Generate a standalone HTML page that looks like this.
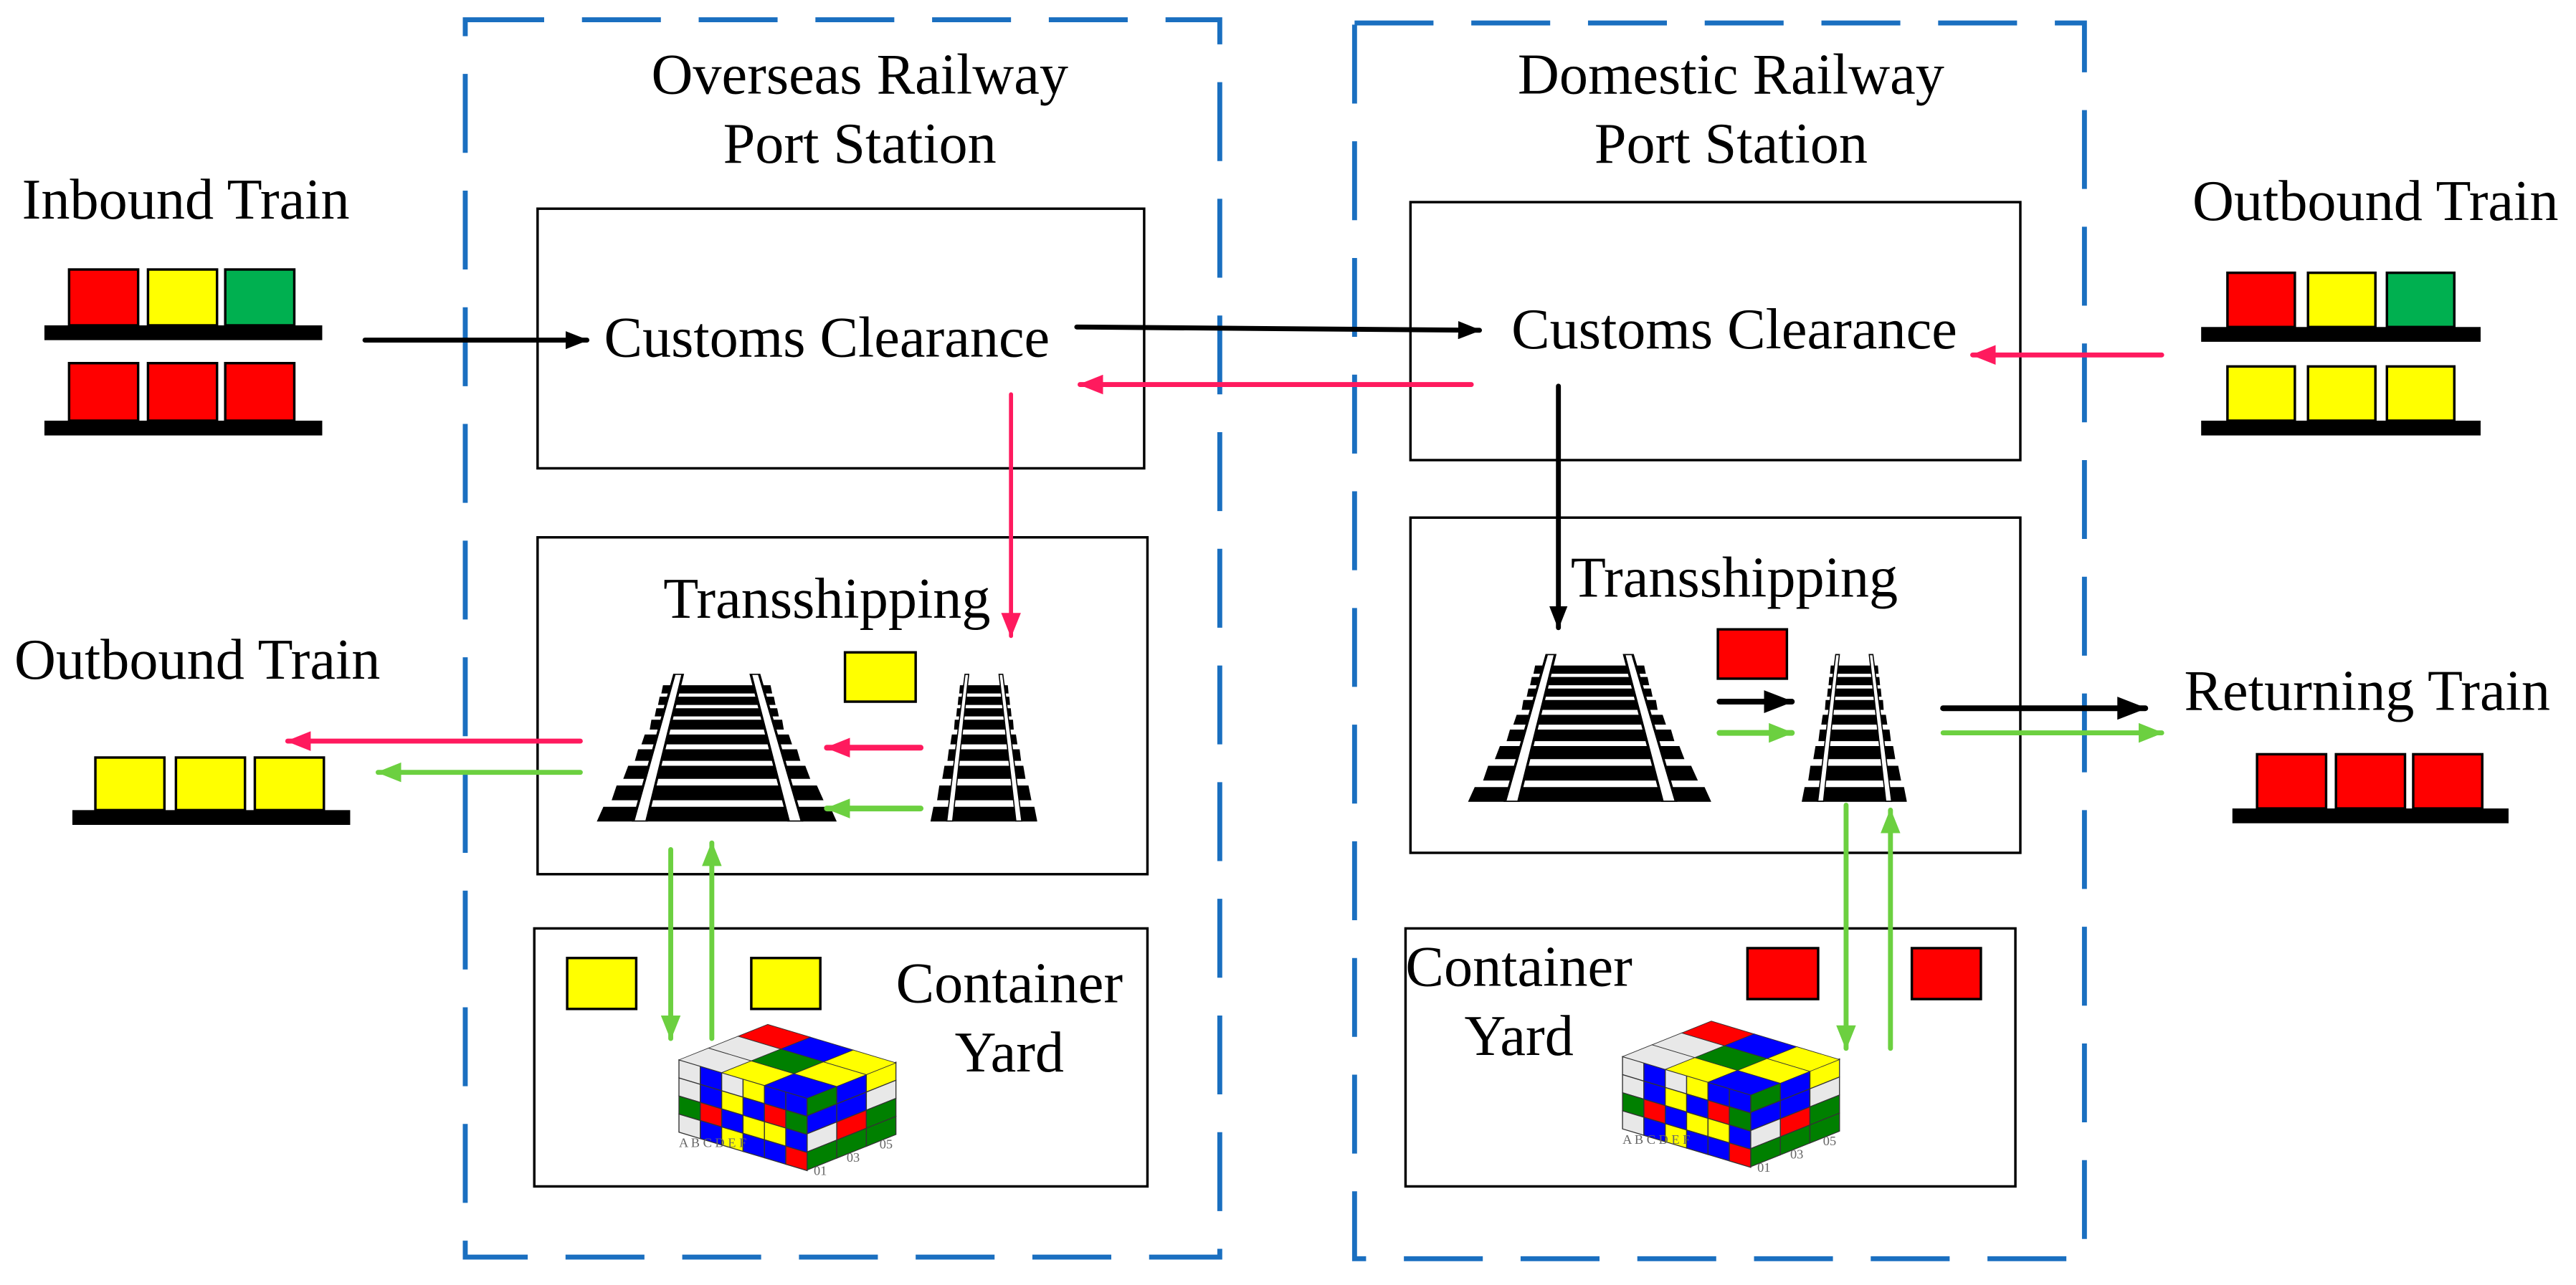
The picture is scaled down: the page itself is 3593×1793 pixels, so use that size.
<!DOCTYPE html>
<html><head><meta charset="utf-8"><style>
html,body{margin:0;padding:0;background:#fff}
svg{display:block}
text{font-family:"Liberation Serif",serif;font-size:35px;fill:#000}
</style></head><body>
<svg width="3593" height="1793" viewBox="0 0 1567 782" xmlns="http://www.w3.org/2000/svg">
<defs>
<marker id="ak" markerWidth="14" markerHeight="11" refX="13" refY="5.5" orient="auto" markerUnits="userSpaceOnUse"><path d="M0,0 L14,5.5 L0,11 Z" fill="#000"/></marker>
<marker id="ap" markerWidth="15" markerHeight="12" refX="14" refY="6" orient="auto" markerUnits="userSpaceOnUse"><path d="M0,0 L15,6 L0,12 Z" fill="#ff1a5e"/></marker>
<marker id="ag" markerWidth="15" markerHeight="12" refX="14" refY="6" orient="auto" markerUnits="userSpaceOnUse"><path d="M0,0 L15,6 L0,12 Z" fill="#6cd040"/></marker>
<marker id="akb" markerWidth="18" markerHeight="14" refX="17" refY="7" orient="auto" markerUnits="userSpaceOnUse"><path d="M0,0 L18,7 L0,14 Z" fill="#000"/></marker>
<symbol id="track" viewBox="0 0 145 90" preserveAspectRatio="none">
<g fill="#000">
<polygon points="40,7 105,7 106,12 39,12"/>
<polygon points="38,14 107,14 108,19 37,19"/>
<polygon points="36,21 109,21 110,26 35,26"/>
<polygon points="33,28 112,28 113,34 32,34"/>
<polygon points="29,37 116,37 118,43 27,43"/>
<polygon points="25,46 121,46 123,53 23,53"/>
<polygon points="19,56 126,56 129,64 16,64"/>
<polygon points="12,68 133,68 137,77 9,77"/>
<polygon points="4,81 141,81 145,90 0,90"/>
</g>
<polygon points="47,0 52,0 30,90 22,90" fill="#fff" stroke="#000" stroke-width="1.5"/>
<polygon points="93,0 98,0 124,90 116,90" fill="#fff" stroke="#000" stroke-width="1.5"/>
</symbol>
<g id="stack">
<g transform="matrix(1,0.3,0,1,0,0)" stroke="#333" stroke-width="0.6">
<rect x="0" y="0" width="13" height="11" fill="#e8e8e8"/><rect x="13" y="0" width="13" height="11" fill="#0000ff"/><rect x="26" y="0" width="13" height="11" fill="#e8e8e8"/><rect x="39" y="0" width="13" height="11" fill="#ffff00"/><rect x="52" y="0" width="13" height="11" fill="#0000ff"/><rect x="65" y="0" width="13" height="11" fill="#0000ff"/>
<rect x="0" y="11" width="13" height="11" fill="#e8e8e8"/><rect x="13" y="11" width="13" height="11" fill="#0000ff"/><rect x="26" y="11" width="13" height="11" fill="#ffff00"/><rect x="39" y="11" width="13" height="11" fill="#0000ff"/><rect x="52" y="11" width="13" height="11" fill="#ff0000"/><rect x="65" y="11" width="13" height="11" fill="#008000"/>
<rect x="0" y="22" width="13" height="11" fill="#008000"/><rect x="13" y="22" width="13" height="11" fill="#ff0000"/><rect x="26" y="22" width="13" height="11" fill="#0000ff"/><rect x="39" y="22" width="13" height="11" fill="#ffff00"/><rect x="52" y="22" width="13" height="11" fill="#ffff00"/><rect x="65" y="22" width="13" height="11" fill="#0000ff"/>
<rect x="0" y="33" width="13" height="11" fill="#e8e8e8"/><rect x="13" y="33" width="13" height="11" fill="#0000ff"/><rect x="26" y="33" width="13" height="11" fill="#ffff00"/><rect x="39" y="33" width="13" height="11" fill="#0000ff"/><rect x="52" y="33" width="13" height="11" fill="#0000ff"/><rect x="65" y="33" width="13" height="11" fill="#ff0000"/>
</g>
<g transform="matrix(1,-0.4,0,1,78,23)" stroke="#333" stroke-width="0.6">
<rect x="0" y="0" width="18" height="11" fill="#008000"/><rect x="18" y="0" width="18" height="11" fill="#0000ff"/><rect x="36" y="0" width="18" height="11" fill="#ffff00"/>
<rect x="0" y="11" width="18" height="11" fill="#0000ff"/><rect x="18" y="11" width="18" height="11" fill="#0000ff"/><rect x="36" y="11" width="18" height="11" fill="#e8e8e8"/>
<rect x="0" y="22" width="18" height="11" fill="#e8e8e8"/><rect x="18" y="22" width="18" height="11" fill="#ff0000"/><rect x="36" y="22" width="18" height="11" fill="#008000"/>
<rect x="0" y="33" width="18" height="11" fill="#008000"/><rect x="18" y="33" width="18" height="11" fill="#008000"/><rect x="36" y="33" width="18" height="11" fill="#008000"/>
</g>
<g transform="matrix(1,0.3,1,-0.4,0,0)" stroke="#333" stroke-width="0.6">
<rect x="0" y="0" width="26" height="18" fill="#e8e8e8"/><rect x="26" y="0" width="26" height="18" fill="#ffff00"/><rect x="52" y="0" width="26" height="18" fill="#0000ff"/>
<rect x="0" y="18" width="26" height="18" fill="#e8e8e8"/><rect x="26" y="18" width="26" height="18" fill="#008000"/><rect x="52" y="18" width="26" height="18" fill="#ffff00"/>
<rect x="0" y="36" width="26" height="18" fill="#ff0000"/><rect x="26" y="36" width="26" height="18" fill="#0000ff"/><rect x="52" y="36" width="26" height="18" fill="#ffff00"/>
</g>
<g>
<text x="0" y="53" style="font-size:8px;fill:#666">A  B  C  D  E  F</text>
<text x="82" y="70" style="font-size:8px;fill:#666">01</text><text x="102" y="62" style="font-size:8px;fill:#666">03</text><text x="122" y="54" style="font-size:8px;fill:#666">05</text>
</g>
</g>
</defs>

<rect x="283" y="12" width="459" height="753" fill="none" stroke="#1a6fc0" stroke-width="3" stroke-dasharray="48,23"/>
<rect x="824" y="14" width="444" height="752" fill="none" stroke="#1a6fc0" stroke-width="3" stroke-dasharray="48,23"/>
<text x="523" y="57" text-anchor="middle">Overseas Railway</text>
<text x="523" y="99" text-anchor="middle">Port Station</text>
<text x="1053" y="57" text-anchor="middle">Domestic Railway</text>
<text x="1053" y="99" text-anchor="middle">Port Station</text>

<g fill="none" stroke="#000" stroke-width="1.5">
<rect x="327" y="127" width="369" height="158"/>
<rect x="858" y="123" width="371" height="157"/>
<rect x="327" y="327" width="371" height="205"/>
<rect x="858" y="315" width="371" height="204"/>
<rect x="325" y="565" width="373" height="157"/>
<rect x="855" y="565" width="371" height="157"/>
</g>
<text x="503" y="217" text-anchor="middle">Customs Clearance</text>
<text x="1055" y="212" text-anchor="middle">Customs Clearance</text>
<text x="503" y="376" text-anchor="middle">Transshipping</text>
<text x="1055" y="363" text-anchor="middle">Transshipping</text>
<text x="614" y="610" text-anchor="middle">Container</text>
<text x="614" y="652" text-anchor="middle">Yard</text>
<text x="924" y="600" text-anchor="middle">Container</text>
<text x="924" y="642" text-anchor="middle">Yard</text>

<text x="113" y="133" text-anchor="middle">Inbound Train</text>
<g stroke="#000" stroke-width="1.5">
<rect x="42" y="164" width="42" height="34" fill="#ff0000"/><rect x="90" y="164" width="42" height="34" fill="#ffff00"/><rect x="137" y="164" width="42" height="34" fill="#00b050"/>
<rect x="42" y="221" width="42" height="35" fill="#ff0000"/><rect x="90" y="221" width="42" height="35" fill="#ff0000"/><rect x="137" y="221" width="42" height="35" fill="#ff0000"/>
</g>
<rect x="27" y="198" width="169" height="9" fill="#000"/>
<rect x="27" y="256" width="169" height="9" fill="#000"/>

<text x="1445" y="134" text-anchor="middle">Outbound Train</text>
<g stroke="#000" stroke-width="1.5">
<rect x="1355" y="166" width="41" height="33" fill="#ff0000"/><rect x="1404" y="166" width="41" height="33" fill="#ffff00"/><rect x="1452" y="166" width="41" height="33" fill="#00b050"/>
<rect x="1355" y="223" width="41" height="33" fill="#ffff00"/><rect x="1404" y="223" width="41" height="33" fill="#ffff00"/><rect x="1452" y="223" width="41" height="33" fill="#ffff00"/>
</g>
<rect x="1339" y="199" width="170" height="9" fill="#000"/>
<rect x="1339" y="256" width="170" height="9" fill="#000"/>

<text x="120" y="413" text-anchor="middle">Outbound Train</text>
<g stroke="#000" stroke-width="1.5">
<rect x="58" y="461" width="42" height="32" fill="#ffff00"/><rect x="107" y="461" width="42" height="32" fill="#ffff00"/><rect x="155" y="461" width="42" height="32" fill="#ffff00"/>
</g>
<rect x="44" y="493" width="169" height="9" fill="#000"/>

<text x="1440" y="432" text-anchor="middle">Returning Train</text>
<g stroke="#000" stroke-width="1.5">
<rect x="1373" y="459" width="42" height="33" fill="#ff0000"/><rect x="1421" y="459" width="42" height="33" fill="#ff0000"/><rect x="1468" y="459" width="42" height="33" fill="#ff0000"/>
</g>
<rect x="1358" y="492" width="168" height="9" fill="#000"/>

<use href="#track" x="363" y="410" width="146" height="90"/>
<use href="#track" x="566" y="410" width="65" height="90"/>
<use href="#track" x="893" y="398" width="148" height="90"/>
<use href="#track" x="1096" y="398" width="64" height="90"/>

<g stroke="#000" stroke-width="1.5">
<rect x="514" y="397" width="43" height="30" fill="#ffff00"/>
<rect x="1045" y="383" width="42" height="30" fill="#ff0000"/>
<rect x="345" y="583" width="42" height="31" fill="#ffff00"/>
<rect x="457" y="583" width="42" height="31" fill="#ffff00"/>
<rect x="1063" y="577" width="43" height="31" fill="#ff0000"/>
<rect x="1163" y="577" width="42" height="31" fill="#ff0000"/>
</g>

<use href="#stack" x="413" y="645"/>
<use href="#stack" x="987" y="643"/>

<g stroke-linecap="round" fill="none">
<line x1="222" y1="207" x2="357" y2="207" stroke="#000" stroke-width="3" marker-end="url(#ak)"/>
<line x1="655" y1="199" x2="900" y2="201" stroke="#000" stroke-width="3" marker-end="url(#ak)"/>
<line x1="895" y1="234" x2="657" y2="234" stroke="#ff1a5e" stroke-width="3" marker-end="url(#ap)"/>
<line x1="1315" y1="216" x2="1200" y2="216" stroke="#ff1a5e" stroke-width="3" marker-end="url(#ap)"/>
<line x1="615" y1="240" x2="615" y2="387" stroke="#ff1a5e" stroke-width="2.5" marker-end="url(#ap)"/>
<line x1="948" y1="235" x2="948" y2="382" stroke="#000" stroke-width="3" marker-end="url(#ak)"/>
<line x1="560" y1="455" x2="503" y2="455" stroke="#ff1a5e" stroke-width="3.5" marker-end="url(#ap)"/>
<line x1="560" y1="492" x2="503" y2="492" stroke="#6cd040" stroke-width="3.5" marker-end="url(#ag)"/>
<line x1="353" y1="451" x2="175" y2="451" stroke="#ff1a5e" stroke-width="3" marker-end="url(#ap)"/>
<line x1="353" y1="470" x2="230" y2="470" stroke="#6cd040" stroke-width="3" marker-end="url(#ag)"/>
<line x1="408" y1="517" x2="408" y2="632" stroke="#6cd040" stroke-width="3" marker-end="url(#ag)"/>
<line x1="433" y1="632" x2="433" y2="513" stroke="#6cd040" stroke-width="3" marker-end="url(#ag)"/>
<line x1="1046" y1="427" x2="1090" y2="427" stroke="#000" stroke-width="3.5" marker-end="url(#akb)"/>
<line x1="1046" y1="446" x2="1090" y2="446" stroke="#6cd040" stroke-width="3.5" marker-end="url(#ag)"/>
<line x1="1182" y1="431" x2="1305" y2="431" stroke="#000" stroke-width="3.5" marker-end="url(#akb)"/>
<line x1="1182" y1="446" x2="1315" y2="446" stroke="#6cd040" stroke-width="3" marker-end="url(#ag)"/>
<line x1="1123" y1="490" x2="1123" y2="638" stroke="#6cd040" stroke-width="3" marker-end="url(#ag)"/>
<line x1="1150" y1="638" x2="1150" y2="493" stroke="#6cd040" stroke-width="3" marker-end="url(#ag)"/>
</g>
</svg>
</body></html>
